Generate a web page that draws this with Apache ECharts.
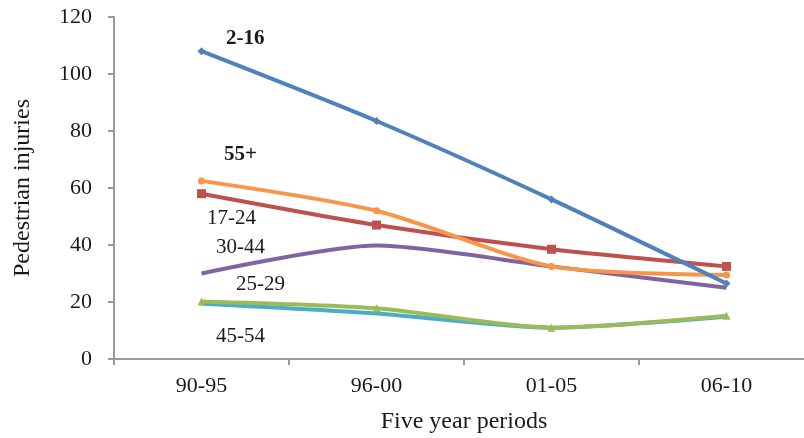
<!DOCTYPE html>
<html>
<head>
<meta charset="utf-8">
<script src="https://cdn.jsdelivr.net/npm/echarts@6/dist/echarts.min.js"></script>
<style>
  html, body { margin: 0; padding: 0; background: #fff; }
  #chart { width: 804px; height: 438px; }
</style>
</head>
<body>
<div id="chart"></div>
<script>
var periods = ["90-95", "96-00", "01-05", "06-10"];
var age2to16 = [108, 83.5, 56, 26.5];
var age55plus = [62.5, 52, 32.5, 29.5];
var age17to24 = [58, 47, 38.5, 32.5];
var age30to44 = [30, 39.8, 32.5, 25];
var age25to29 = [20.2, 17.8, 11, 15.2];
var age45to54 = [19.4, 16, 11, 14.8];
var yTicks = [0, 20, 40, 60, 80, 100, 120];

var serif = "Liberation Serif";

// 基于准备好的dom，初始化echarts实例
var myChart = echarts.init(document.getElementById("chart"));

function line(name, data, color, symbol, size) {
  return {
    name: name,
    type: "line",
    smooth: 0.25,
    data: data,
    symbol: symbol,
    symbolSize: size,
    showAllSymbol: true,
    lineStyle: { color: color, width: 4 },
    itemStyle: { color: color },
    emphasis: { disabled: true },
    animation: false
  };
}

function tag(text, x, y, bold) {
  return {
    type: "text",
    x: x,
    y: y,
    style: {
      text: text,
      font: (bold ? "bold " : "") + "21px " + serif,
      fill: "#1a1a1a",
      verticalAlign: "middle"
    }
  };
}

var option = {
  backgroundColor: "#fff",
  grid: { left: 114, width: 700, top: 17, bottom: 79, outerBoundsMode: "none" },
  xAxis: {
    type: "category",
    data: periods,
    boundaryGap: true,
    name: "Five year periods",
    nameLocation: "middle",
    nameGap: 51,
    nameTextStyle: { fontFamily: serif, fontSize: 24, color: "#1a1a1a" },
    axisLine: { lineStyle: { color: "#999", width: 2 } },
    axisTick: { show: true, length: 6, lineStyle: { color: "#999", width: 2 } },
    axisLabel: { fontFamily: serif, fontSize: 22, color: "#1a1a1a", margin: 16 }
  },
  yAxis: {
    type: "value",
    min: yTicks[0],
    max: yTicks[yTicks.length - 1],
    interval: 20,
    name: "Pedestrian injuries",
    nameLocation: "middle",
    nameGap: 79,
    nameTextStyle: { fontFamily: serif, fontSize: 24, color: "#1a1a1a" },
    axisLine: { show: true, lineStyle: { color: "#999", width: 2 } },
    axisTick: { show: true, length: 6, lineStyle: { color: "#999", width: 2 } },
    splitLine: { show: false },
    axisLabel: { fontFamily: serif, fontSize: 22, color: "#1a1a1a", margin: 22 }
  },
  series: [
    line("45-54", age45to54, "#4bacc6", "path://M0,0L10,10M10,0L0,10M5,0L5,10", 8),
    line("25-29", age25to29, "#9bbb59", "triangle", 8),
    line("30-44", age30to44, "#8064a2", "path://M0,0L10,10M10,0L0,10", 8),
    line("17-24", age17to24, "#c0504d", "rect", 9),
    line("55+", age55plus, "#f79646", "circle", 7),
    line("2-16", age2to16, "#4f81bd", "diamond", 8)
  ],
  graphic: [
    tag("2-16", 226, 39, true),
    tag("55+", 224, 155, true),
    tag("17-24", 207, 218, false),
    tag("30-44", 216, 247, false),
    tag("25-29", 236, 284, false),
    tag("45-54", 216, 336, false)
  ]
};
// 绘制图表
myChart.setOption(option);
</script>
</body>
</html>
